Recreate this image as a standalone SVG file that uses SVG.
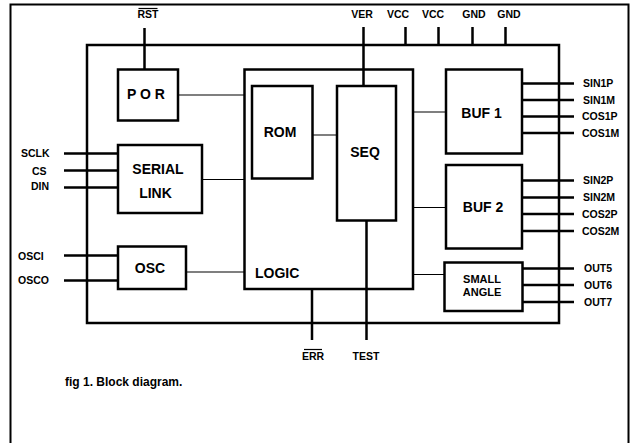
<svg xmlns="http://www.w3.org/2000/svg" width="632" height="443" viewBox="0 0 632 443">
<style>
.box{fill:none;stroke:#000;stroke-width:2.5}
.pin{stroke:#000;stroke-width:2.5;fill:none}
.wire{stroke:#000;stroke-width:1.2;fill:none}
.lbl{font-family:"Liberation Sans",Arial,sans-serif;font-weight:bold;font-size:10.5px;fill:#000}
.big{font-family:"Liberation Sans",Arial,sans-serif;font-weight:bold;font-size:14px;fill:#000}
.sm{font-family:"Liberation Sans",Arial,sans-serif;font-weight:bold;font-size:11px;fill:#000}
.cap{font-family:"Liberation Sans",Arial,sans-serif;font-weight:bold;font-size:12px;fill:#000}
.mid{text-anchor:middle}
</style>
<rect width="632" height="443" fill="#fff"/>
<rect x="10.5" y="4.5" width="618" height="460" fill="none" stroke="#000" stroke-width="2"/>
<g id="chip"><rect class="box" x="87" y="45" width="472" height="278"/></g>
<g id="connectors">
<path class="pin" d="M144.5 28V69M363.5 27V86M405.5 27V45M438.5 27V45M472.5 27V45M505.5 27V45"/>
<path class="pin" d="M64 153.5H118M64 170.5H118M64 187.5H118M64 255.5H118M64 280.5H118"/>
<path class="pin" d="M522 83.5H574M522 100H574M522 116.5H574M522 133H574M522 180.5H574M522 197.5H574M522 214H574M522 231H574M522 268.5H574M522 285H574M522 302H574"/>
<path class="pin" d="M312 289V340M366.5 221V340"/>
<path class="wire" d="M178 95H244M203 179.5H244M186 272H244M313 135H337M413 112H446M413 207.5H446M413 274.5H444"/>
</g>
<g id="por"><rect class="box" x="118" y="69.5" width="60" height="51"/><text class="big mid" x="146" y="99">P O R</text></g>
<g id="serial"><rect class="box" x="118" y="145" width="84" height="68"/><text class="big mid" x="158" y="174">SERIAL</text><text class="big mid" x="155.5" y="198">LINK</text></g>
<g id="osc"><rect class="box" x="118" y="246.5" width="68" height="42.5"/><text class="big mid" x="150" y="272.5">OSC</text></g>
<g id="logic"><rect class="box" x="244.5" y="69.5" width="168.5" height="219.5"/><text class="big" x="255" y="278">LOGIC</text></g>
<g id="rom"><rect class="box" x="252" y="86" width="60.5" height="92.5"/><text class="big mid" x="280" y="137">ROM</text></g>
<g id="seq"><rect class="box" x="337" y="86" width="59" height="134.5"/><text class="big mid" x="365" y="157">SEQ</text></g>
<g id="buf1"><rect class="box" x="446" y="69.5" width="76" height="84"/><text class="big mid" x="481.5" y="118">BUF 1</text></g>
<g id="buf2"><rect class="box" x="446" y="165" width="76" height="83.5"/><text class="big mid" x="483" y="212">BUF 2</text></g>
<g id="smallangle"><rect class="box" x="444.5" y="262.5" width="78" height="48.5"/><text class="sm mid" x="482" y="282.5">SMALL</text><text class="sm mid" x="482" y="296">ANGLE</text></g>
<g id="labels">
<text class="lbl mid" x="148" y="18">RST</text><path class="wire" d="M138.5 8.5H157.5"/>
<text class="lbl mid" x="362" y="18">VER</text>
<text class="lbl mid" x="398" y="18">VCC</text>
<text class="lbl mid" x="433" y="18">VCC</text>
<text class="lbl mid" x="474" y="18">GND</text>
<text class="lbl mid" x="509" y="18">GND</text>
<text class="lbl" x="21" y="157">SCLK</text>
<text class="lbl" x="32" y="174.5">CS</text>
<text class="lbl" x="31" y="189.5">DIN</text>
<text class="lbl" x="18" y="259.5">OSCI</text>
<text class="lbl" x="18" y="283.5">OSCO</text>
<text class="lbl" x="583" y="87">SIN1P</text>
<text class="lbl" x="583" y="103.5">SIN1M</text>
<text class="lbl" x="582" y="120">COS1P</text>
<text class="lbl" x="582" y="136.5">COS1M</text>
<text class="lbl" x="583" y="184">SIN2P</text>
<text class="lbl" x="583" y="201">SIN2M</text>
<text class="lbl" x="582" y="218">COS2P</text>
<text class="lbl" x="582" y="235">COS2M</text>
<text class="lbl" x="584" y="272">OUT5</text>
<text class="lbl" x="584" y="289">OUT6</text>
<text class="lbl" x="584" y="305.5">OUT7</text>
<text class="lbl mid" x="313" y="360">ERR</text><path class="wire" d="M304 349.5H322"/>
<text class="lbl mid" x="366" y="360">TEST</text>
<text class="cap" x="65" y="386">fig 1. Block diagram.</text>
</g>
</svg>
